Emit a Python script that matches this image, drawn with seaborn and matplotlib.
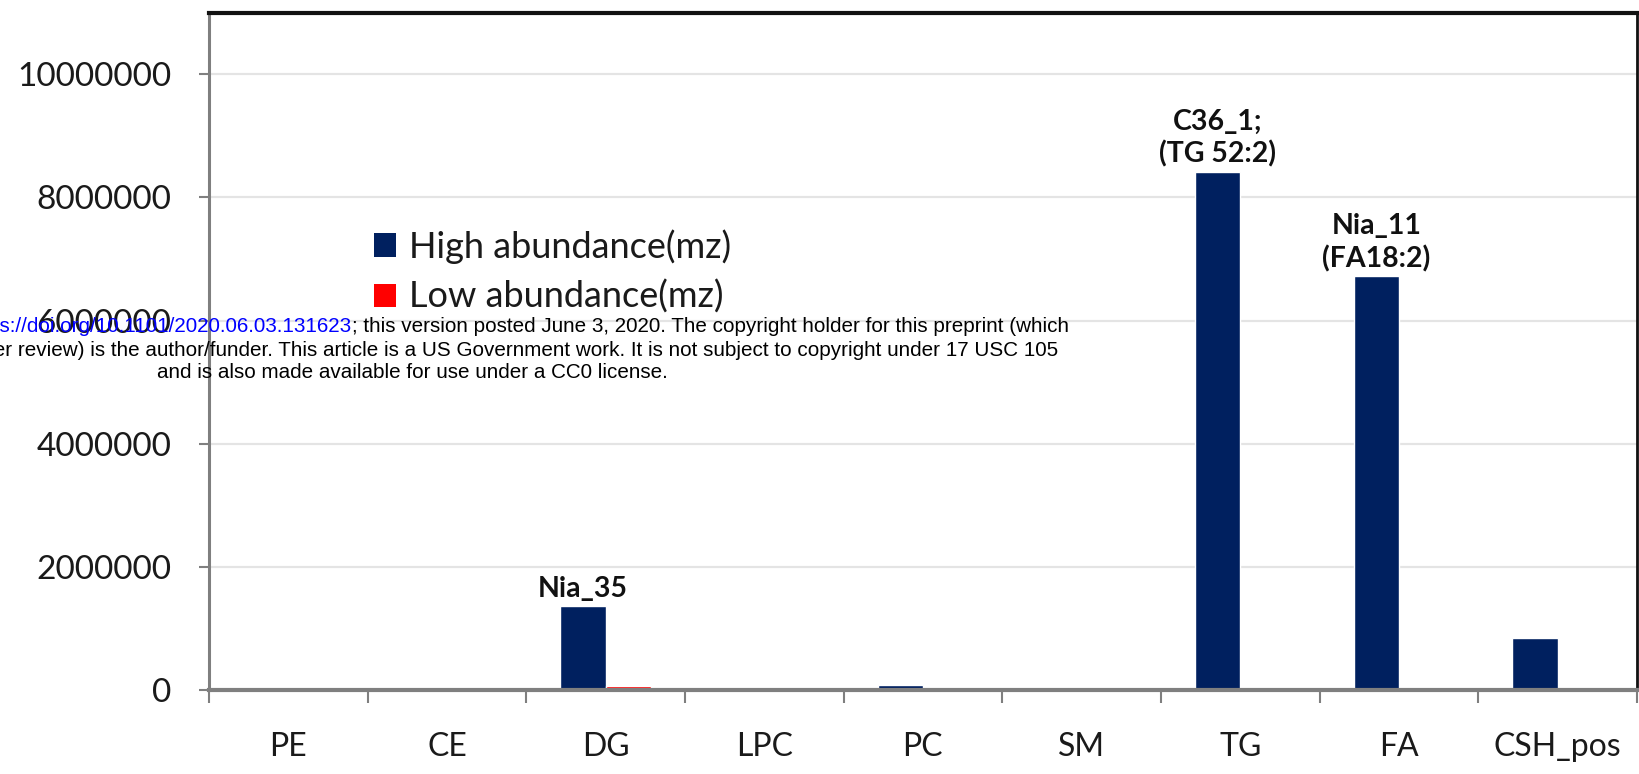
import matplotlib
matplotlib.use("Agg")
import matplotlib.pyplot as plt
import seaborn as sns
import pandas as pd
from matplotlib.ticker import FixedLocator, FuncFormatter
from matplotlib.patches import Patch

# ---- data -------------------------------------------------------------
lipid_classes = ["PE", "CE", "DG", "LPC", "PC", "SM", "TG", "FA", "CSH_pos"]
high_abundance = [15000, 12000, 1370000, 10000, 80000, 8000, 8420000, 6720000, 850000]
low_abundance = [4000, 4000, 70000, 3000, 4000, 3000, 4000, 4000, 4000]
series_names = ["High abundance(mz)", "Low abundance(mz)"]
bar_labels = ["", "", "Nia_35", "", "", "", "C36_1;\n(TG 52:2)", "Nia_11\n(FA18:2)", ""]
y_ticks = [0, 2000000, 4000000, 6000000, 8000000, 10000000]

NAVY = "#00205f"
RED = "#ff0000"

df = pd.DataFrame({
    "lipid_class": lipid_classes * 2,
    "intensity": high_abundance + low_abundance,
    "series": [series_names[0]] * len(lipid_classes) + [series_names[1]] * len(lipid_classes),
})

sns.set_theme(style="white")
plt.rcParams["font.family"] = ["Lato", "DejaVu Sans"]

fig = plt.figure(figsize=(16.4, 7.74), dpi=100)
fig.patch.set_facecolor("white")
ax = fig.add_axes([0.1274, 0.1085, 0.8707, 0.875])

sns.barplot(data=df, x="lipid_class", y="intensity", hue="series",
            order=lipid_classes, hue_order=series_names,
            palette=[NAVY, RED], width=0.57, saturation=1,
            errorbar=None, legend=False, ax=ax)

ax.set_xlim(-0.5, len(lipid_classes) - 0.5)
ax.set_ylim(0, 11000000)
ax.set_xlabel("")
ax.set_ylabel("")

# gridlines
ax.yaxis.set_major_locator(FixedLocator(y_ticks))
ax.yaxis.set_major_formatter(FuncFormatter(lambda v, p: f"{int(v)}"))
ax.grid(axis="y", color="#e4e4e4", linewidth=1.6)
ax.set_axisbelow(True)

# spines
ax.spines["top"].set_color("#111111")
ax.spines["top"].set_linewidth(3.0)
ax.spines["right"].set_color("#111111")
ax.spines["right"].set_linewidth(2.0)
ax.spines["left"].set_color("#7f7f7f")
ax.spines["left"].set_linewidth(2.2)
ax.spines["bottom"].set_color("#7f7f7f")
ax.spines["bottom"].set_linewidth(3.0)

# ticks
ax.tick_params(axis="y", which="major", left=True, length=7, width=1.5,
               color="#7f7f7f", labelsize=24, pad=20, labelcolor="#1a1a1a")
ax.set_xticks(range(len(lipid_classes)))
ax.set_xticklabels(lipid_classes)
ax.set_xticks([i - 0.5 for i in range(len(lipid_classes) + 1)], minor=True)
ax.tick_params(axis="x", which="major", bottom=False, labelsize=23, pad=24,
               labelcolor="#1a1a1a")
ax.tick_params(axis="x", which="minor", bottom=True, length=9, width=1.5,
               color="#7f7f7f")

# bar annotations
for patch, text in zip(ax.containers[0], bar_labels):
    if text:
        ax.annotate(text, (patch.get_x() + patch.get_width() / 2, patch.get_height()),
                    xytext=(0, 3), textcoords="offset points",
                    ha="center", va="bottom", fontsize=20.5, fontweight="bold",
                    color="#111111", linespacing=1.25)

# legend
handles = [Patch(facecolor=NAVY, edgecolor="none"), Patch(facecolor=RED, edgecolor="none")]
fig.legend(handles, series_names, loc="upper left",
           bbox_to_anchor=(374 / 1640, 1 - 229 / 774), bbox_transform=fig.transFigure,
           frameon=False, fontsize=26, handlelength=0.62, handleheight=0.62,
           handletextpad=0.35, labelspacing=0.45, borderpad=0, borderaxespad=0,
           labelcolor="#1a1a1a")

# preprint notice overlay
wm_font = dict(family=["Liberation Sans", "DejaVu Sans"], fontsize=14.9)
line1 = ["bioRxiv preprint doi: ", "https://doi.org/10.1101/2020.06.03.131623",
         "; this version posted June 3, 2020. The copyright holder for this preprint (which"]
line2 = ("was not certified by peer review) is the author/funder. This article is a US "
         "Government work. It is not subject to copyright under 17 USC 105")
line3 = "and is also made available for use under a CC0 license."
cx = 412 / 1640
cx_top = 423 / 1640
renderer = fig.canvas.get_renderer()
probe = fig.text(cx_top, 0, "".join(line1), ha="center", **wm_font)
bb = probe.get_window_extent(renderer)
probe.remove()
left = bb.x0 / fig.bbox.width
t1 = fig.text(left, 1 - 327 / 774, line1[0], ha="left", va="center", color="black", **wm_font)
t2 = ax.annotate(line1[1], xy=(1, 0), xycoords=t1, ha="left", va="bottom",
                 color="#0000ff", annotation_clip=False, **wm_font)
t3 = ax.annotate(line1[2], xy=(1, 0), xycoords=t2, ha="left", va="bottom",
                 color="black", annotation_clip=False, **wm_font)
fig.text(cx_top, 1 - 350 / 774, line2, ha="center", va="center", color="black", **wm_font)
fig.text(cx, 1 - 373 / 774, line3, ha="center", va="center", color="black", **wm_font)

fig.savefig("out.png", dpi=100, facecolor="white")
